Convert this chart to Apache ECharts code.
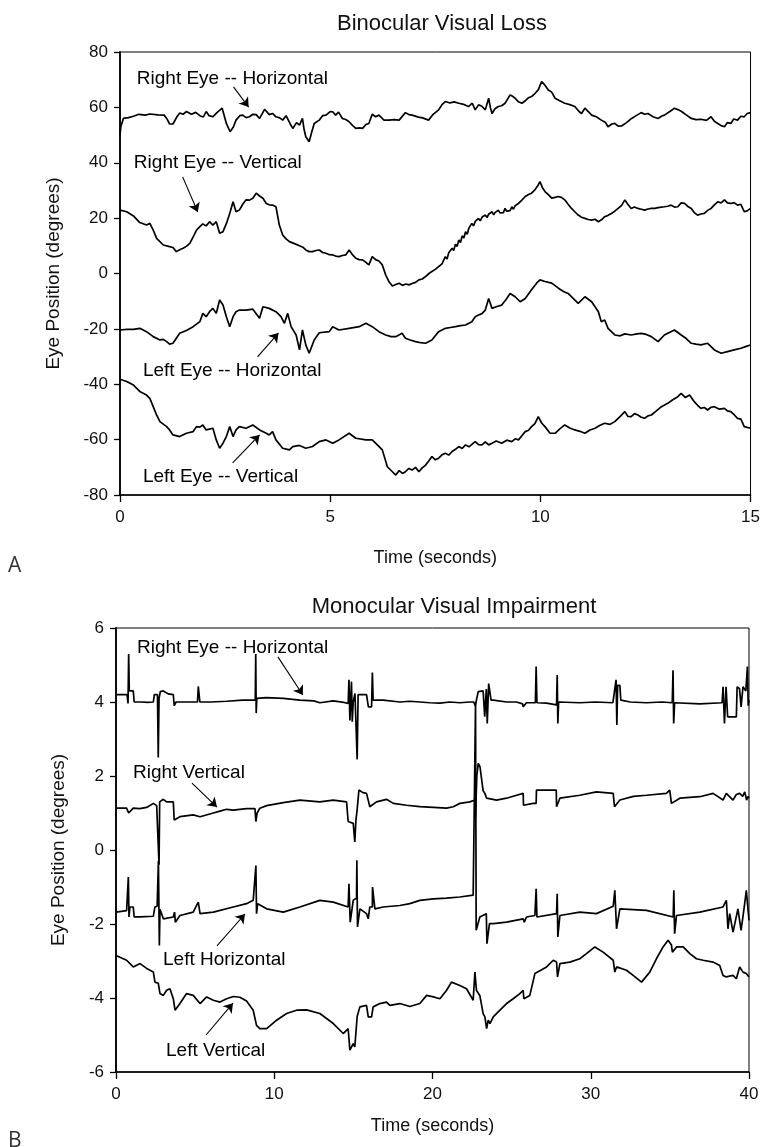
<!DOCTYPE html>
<html><head><meta charset="utf-8">
<script src="https://cdn.jsdelivr.net/npm/echarts@6/dist/echarts.min.js"></script>
<style>html,body{margin:0;padding:0;background:#fff}#c{width:763px;height:1147px}</style>
</head><body><div id="c"></div>
<script>
// ---------- Panel A: Binocular Visual Loss (time s, degrees) ----------
const A_rightHorizontal = [[0,50],[0.02,53],[0.08,56],[0.2,56.3],[0.32,56.8],[0.45,57.5],[0.6,57.2],[0.71,57.6],[0.9,57.3],[1.05,57.2],[1.11,56],[1.18,54],[1.26,54],[1.35,56.5],[1.42,58],[1.5,57.5],[1.58,58.5],[1.7,57.5],[1.8,58.2],[1.9,57],[1.98,56.5],[2.05,58.5],[2.12,57],[2.21,56.6],[2.3,58],[2.43,59.7],[2.48,57],[2.53,54.2],[2.62,51.2],[2.7,53],[2.76,55.4],[2.85,57],[2.92,57.2],[3.0,56.3],[3.08,56.6],[3.16,57.5],[3.24,57.4],[3.32,56],[3.44,59.3],[3.55,57.4],[3.63,57.8],[3.71,56.6],[3.8,56.2],[3.87,55.4],[3.95,57],[3.99,56.6],[4.05,54],[4.11,52.4],[4.2,54.5],[4.27,53.6],[4.34,56],[4.38,52],[4.42,49.4],[4.5,47.6],[4.56,51],[4.62,54.2],[4.74,55.4],[4.82,57],[4.9,57.2],[5.0,58.5],[5.06,58.4],[5.13,57.2],[5.2,58.3],[5.29,56],[5.37,55.6],[5.45,54.8],[5.53,53.5],[5.61,52.4],[5.7,52.6],[5.77,52.4],[5.85,53.8],[5.92,54.2],[6.0,57.5],[6.08,56.6],[6.16,57.2],[6.28,55.4],[6.4,55.4],[6.52,55.6],[6.64,55.4],[6.79,58.1],[6.87,57.4],[6.95,57.2],[7.1,56.5],[7.2,56.2],[7.34,55.4],[7.45,57.5],[7.58,59.1],[7.66,61],[7.74,62.1],[7.85,61.6],[7.95,62],[8.06,61.5],[8.15,61.2],[8.22,60.8],[8.29,60.3],[8.38,61.5],[8.45,59.1],[8.53,60.9],[8.6,60.5],[8.69,59.1],[8.77,63.3],[8.81,60],[8.85,57.8],[8.92,59.5],[9.0,60.3],[9.08,60.6],[9.16,61.5],[9.22,63],[9.28,64.5],[9.34,64],[9.4,63.3],[9.48,62],[9.56,61.5],[9.65,62.5],[9.72,63.5],[9.79,63.9],[9.87,65],[9.95,66.3],[10.03,69.3],[10.1,68.2],[10.19,66.3],[10.27,65.5],[10.35,63.3],[10.45,62.5],[10.58,61.5],[10.7,61],[10.82,60.3],[10.92,58.5],[10.98,57.8],[11.06,59.7],[11.14,58.5],[11.22,57.2],[11.33,56.6],[11.45,55.4],[11.55,54.5],[11.61,53],[11.7,54],[11.77,54.2],[11.85,53.2],[11.93,53.3],[12.05,54.5],[12.17,56],[12.3,57.2],[12.4,58.1],[12.48,57.5],[12.56,57.8],[12.68,56.6],[12.8,56],[12.88,56.8],[12.95,57.2],[13.08,58.5],[13.19,59.7],[13.27,59.2],[13.35,58.6],[13.47,57.3],[13.59,56],[13.7,55.6],[13.82,55.7],[13.95,55.3],[14.06,56.6],[14.14,55],[14.22,54.2],[14.3,53.4],[14.38,53],[14.45,54.5],[14.53,54.2],[14.6,55.8],[14.69,55.4],[14.77,56.8],[14.85,56.6],[14.92,57.8],[15.0,58.1]];
const A_rightVertical = [[0,22.9],[0.16,22.3],[0.32,20.8],[0.47,18.4],[0.63,17.5],[0.71,18.1],[0.79,15.7],[0.87,12.7],[1.03,10.3],[1.18,9.7],[1.26,9.4],[1.34,7.9],[1.42,8.6],[1.5,9.1],[1.58,9.8],[1.66,10.9],[1.75,13.5],[1.82,15.7],[1.9,16.9],[1.97,17.9],[2.05,17.2],[2.13,18.7],[2.21,17.5],[2.29,18.7],[2.37,14.5],[2.45,15.1],[2.53,18],[2.61,21.7],[2.69,25.9],[2.76,22.3],[2.84,22.9],[2.92,25],[3.0,26.6],[3.08,26.5],[3.16,27.2],[3.24,29],[3.32,28],[3.4,27.2],[3.48,25.3],[3.55,24.8],[3.63,24.7],[3.71,24.1],[3.79,17.5],[3.87,13.9],[3.95,12.5],[4.03,11.5],[4.15,10.8],[4.27,10],[4.35,9.5],[4.42,8.5],[4.5,7.9],[4.58,7.9],[4.66,8.3],[4.74,8.5],[4.82,7.6],[4.9,7.3],[4.98,6.8],[5.06,6.7],[5.13,6.3],[5.21,6.1],[5.29,6.5],[5.37,6.7],[5.45,8.5],[5.53,6.8],[5.61,5.5],[5.69,5],[5.77,4.9],[5.85,4],[5.92,3.1],[6.0,6.1],[6.08,5],[6.16,4.5],[6.24,3.1],[6.32,-0.5],[6.4,-3],[6.48,-4.5],[6.56,-4],[6.64,-3.5],[6.72,-4.3],[6.8,-3.8],[6.87,-4.1],[6.95,-3.6],[7.03,-3.2],[7.11,-2.3],[7.19,-2],[7.27,-1.1],[7.35,0],[7.42,0.7],[7.5,1.5],[7.58,2.5],[7.66,3.5],[7.74,6.1],[7.78,5.2],[7.82,7.5],[7.86,7.0],[7.9,9.1],[7.94,8.3],[7.98,10.6],[8.02,9.8],[8.06,12.1],[8.1,11.2],[8.14,13.6],[8.18,12.8],[8.22,15.1],[8.26,14.2],[8.3,16.4],[8.34,15.8],[8.37,18.1],[8.41,17.2],[8.45,18.8],[8.49,18.2],[8.53,19.9],[8.57,19.0],[8.61,20.3],[8.65,19.8],[8.69,21.1],[8.73,20.2],[8.77,21.4],[8.81,20.8],[8.85,22.3],[8.89,21.2],[8.92,22],[8.96,21.5],[9.0,22.9],[9.04,21.9],[9.08,22.6],[9.12,22.0],[9.16,23.5],[9.2,22.5],[9.24,23.2],[9.28,22.7],[9.32,24.1],[9.36,23.2],[9.4,24.5],[9.44,23.8],[9.48,25.3],[9.56,26.5],[9.64,27.8],[9.72,28.5],[9.79,29],[9.87,30.2],[9.95,32],[9.99,33.2],[10.05,31],[10.11,29.6],[10.19,28.5],[10.27,27.2],[10.35,27.5],[10.43,27.8],[10.5,27.5],[10.58,26.6],[10.66,25],[10.74,23.5],[10.82,22.3],[10.9,21.1],[10.98,20.3],[11.06,19.9],[11.14,19.5],[11.22,19.3],[11.3,19.6],[11.38,18.7],[11.46,19.5],[11.53,20.5],[11.61,21],[11.69,21.7],[11.77,22.5],[11.85,23.5],[11.93,24.5],[12.01,26.6],[12.08,25],[12.16,23.5],[12.24,24],[12.32,23.5],[12.4,23.2],[12.48,22.9],[12.56,23.3],[12.64,23.5],[12.72,23.5],[12.8,23.8],[12.88,24],[12.95,24.1],[13.03,24.3],[13.11,24.7],[13.19,24],[13.27,24.1],[13.35,25.5],[13.43,25.3],[13.51,24.2],[13.59,23.5],[13.66,22],[13.74,21.1],[13.82,21.5],[13.9,21.7],[13.98,22.8],[14.06,23.5],[14.14,24.8],[14.22,25.9],[14.3,25.5],[14.38,26.6],[14.45,25.5],[14.53,25.3],[14.61,25.6],[14.69,24.7],[14.77,25],[14.85,22.3],[14.92,22.6],[15.0,23.5]];
const A_leftHorizontal = [[0,-20.4],[0.16,-20.2],[0.32,-20.2],[0.47,-19.8],[0.63,-21],[0.79,-22.8],[0.95,-24],[1.03,-23.8],[1.11,-24.6],[1.18,-25.5],[1.26,-25.2],[1.34,-23.4],[1.42,-21.6],[1.58,-20.6],[1.74,-19.2],[1.9,-17.4],[1.97,-14.4],[2.05,-15.6],[2.13,-13.8],[2.21,-12.6],[2.29,-14.4],[2.37,-9.6],[2.45,-11.4],[2.53,-15.6],[2.61,-19.2],[2.69,-15.6],[2.76,-13.8],[2.84,-13.2],[3.0,-13.2],[3.16,-12.9],[3.32,-16.2],[3.4,-12],[3.55,-12.6],[3.71,-13.8],[3.83,-15.6],[3.91,-18],[3.99,-14.4],[4.07,-19.2],[4.19,-22.2],[4.27,-27.6],[4.34,-20.4],[4.42,-25.8],[4.5,-28.8],[4.62,-24],[4.74,-21.4],[4.98,-21],[5.06,-19.2],[5.21,-20.4],[5.45,-19.8],[5.69,-19.2],[5.85,-18],[6.0,-19.2],[6.16,-21],[6.32,-22.2],[6.45,-22.8],[6.56,-22.8],[6.71,-21.6],[6.79,-23.4],[6.9,-24],[7.03,-24.6],[7.15,-25],[7.27,-25.2],[7.42,-24],[7.58,-21],[7.74,-19.8],[7.86,-19.5],[7.98,-19.2],[8.1,-18.8],[8.22,-18.6],[8.37,-17.4],[8.45,-15.6],[8.53,-15],[8.61,-14.5],[8.69,-13.2],[8.77,-9],[8.85,-12.6],[8.95,-12],[9.08,-11.4],[9.18,-9.5],[9.28,-7.2],[9.4,-8.4],[9.52,-10.2],[9.64,-9],[9.79,-5.9],[9.91,-3.5],[9.99,-2.3],[10.11,-2.9],[10.27,-3.5],[10.43,-5.3],[10.55,-6.5],[10.66,-7.2],[10.78,-9],[10.9,-10.8],[11.06,-8.4],[11.22,-10.2],[11.38,-13.8],[11.45,-17.4],[11.53,-16.8],[11.61,-19.8],[11.77,-22.2],[11.9,-22.5],[12.01,-21.8],[12.16,-22.2],[12.3,-21.8],[12.4,-21.6],[12.52,-22],[12.64,-22.8],[12.8,-24.6],[12.95,-22.2],[13.08,-21.2],[13.19,-20.4],[13.35,-22.2],[13.47,-23.5],[13.59,-25.2],[13.7,-25.5],[13.82,-25.8],[13.98,-25.2],[14.14,-27.6],[14.3,-28.8],[14.45,-28.2],[14.61,-27.6],[14.77,-27],[14.88,-26.4],[15.0,-25.8]];
const A_leftVertical = [[0,-38.2],[0.16,-39],[0.32,-40.3],[0.47,-42.6],[0.63,-43.9],[0.71,-45.1],[0.79,-48.1],[0.87,-51.1],[0.95,-53.5],[1.11,-55.3],[1.18,-56.5],[1.26,-58.3],[1.42,-58.9],[1.58,-57.7],[1.74,-57.1],[1.82,-55.3],[1.9,-55.5],[1.97,-54.7],[2.05,-56.5],[2.21,-55.9],[2.29,-60.1],[2.37,-63.1],[2.45,-61.3],[2.53,-58.9],[2.61,-55.3],[2.69,-58.9],[2.76,-56.5],[2.84,-55.3],[3.0,-55.9],[3.16,-54.7],[3.32,-56.5],[3.48,-57.7],[3.55,-58.3],[3.63,-57.1],[3.71,-60.1],[3.87,-63.1],[4.03,-63.7],[4.11,-62.5],[4.27,-62.1],[4.42,-63.1],[4.58,-62.5],[4.74,-60.7],[4.9,-60.1],[5.06,-61.3],[5.21,-60.1],[5.45,-57.7],[5.61,-59.5],[5.85,-60.1],[6.0,-60.1],[6.08,-61.3],[6.24,-63.7],[6.36,-69.8],[6.48,-71.6],[6.56,-72.8],[6.64,-71.2],[6.72,-72.2],[6.79,-71.6],[6.87,-70.4],[6.95,-71],[7.03,-70],[7.11,-71.6],[7.19,-70.2],[7.27,-69.2],[7.35,-67.6],[7.42,-66.1],[7.5,-67.3],[7.58,-66.7],[7.66,-65.5],[7.74,-64.9],[7.82,-65.6],[7.9,-64.3],[7.98,-63.5],[8.06,-62.5],[8.14,-63.2],[8.22,-61.9],[8.3,-62.6],[8.45,-60.7],[8.53,-61.8],[8.61,-61.9],[8.69,-60.8],[8.77,-61.9],[8.85,-61.3],[8.95,-60.5],[9.08,-61.3],[9.2,-60.2],[9.32,-60.7],[9.4,-59.7],[9.48,-60.1],[9.56,-58.6],[9.64,-57.1],[9.72,-56.6],[9.79,-55.3],[9.87,-54.2],[9.95,-51.7],[10.03,-54],[10.11,-55.3],[10.23,-57.7],[10.35,-57.7],[10.47,-56],[10.58,-54.7],[10.7,-55.8],[10.82,-56.5],[10.94,-57],[11.06,-57.7],[11.18,-56.5],[11.3,-55.9],[11.42,-54.8],[11.53,-54.1],[11.65,-54.5],[11.77,-53.5],[11.9,-51.6],[12.01,-49.9],[12.08,-51.6],[12.16,-51.7],[12.24,-50.6],[12.32,-51.1],[12.4,-51.9],[12.48,-52.3],[12.56,-51.4],[12.64,-51.1],[12.76,-49.6],[12.88,-48.1],[13.03,-46.9],[13.15,-45.6],[13.27,-44.5],[13.35,-43.3],[13.45,-44.8],[13.55,-43.9],[13.66,-46.3],[13.74,-47.6],[13.82,-48.7],[13.9,-48.4],[13.98,-49.3],[14.06,-48.3],[14.14,-48.1],[14.26,-49],[14.38,-48.7],[14.45,-49.6],[14.53,-49.9],[14.61,-51],[14.69,-52.3],[14.77,-52.6],[14.85,-55.3],[14.92,-55.6],[15.0,-55.9]];

// ---------- Panel B: Monocular Visual Impairment ----------
const B_rightHorizontal = [[0,4.2],[0.7,4.2],[0.76,3.96],[0.8,5.3],[0.84,4.3],[1.09,4.3],[1.15,4.0],[1.6,4.0],[2.0,3.99],[2.36,4.0],[2.42,4.2],[2.62,4.2],[2.67,2.5],[2.72,4.1],[2.8,4.28],[2.99,4.3],[3.3,4.22],[3.62,4.2],[3.68,3.9],[3.75,3.9],[3.8,4.0],[4.4,4.0],[5.15,4.0],[5.2,4.42],[5.26,4.38],[5.3,4.0],[6.0,4.0],[7.0,4.02],[8.0,4.05],[8.8,4.05],[8.83,5.3],[8.86,3.7],[8.9,4.1],[9.5,4.12],[10.57,4.1],[11.62,4.05],[12.5,4.03],[12.88,3.98],[13.73,4.03],[14.4,3.99],[14.67,3.96],[14.72,4.6],[14.78,3.5],[14.88,4.55],[14.93,3.47],[14.99,4.0],[15.1,4.23],[15.2,4.2],[15.24,2.45],[15.3,4.2],[15.83,4.2],[15.95,3.87],[16.15,3.87],[16.2,4.8],[16.25,4.05],[16.88,4.05],[17.94,4.0],[18.57,4.02],[19.2,4.0],[19.83,3.98],[20.47,3.97],[21.1,4.0],[21.73,3.98],[22.36,4.0],[22.6,4.0],[22.7,3.9],[22.8,3.95],[22.89,4.28],[23.0,4.25],[23.2,4.3],[23.3,3.6],[23.4,4.35],[23.46,3.42],[23.55,4.5],[23.63,4.45],[23.7,4.05],[23.84,4.05],[24.68,4.0],[25.3,4.0],[25.7,3.95],[25.73,3.87],[25.94,3.98],[26.5,3.98],[26.55,4.96],[26.6,3.98],[27.2,3.97],[27.84,3.92],[27.88,4.73],[27.92,3.42],[27.97,4.0],[28.05,4.05],[29.31,3.98],[30.3,4.0],[31.4,3.98],[31.6,4.6],[31.65,3.38],[31.7,4.45],[31.84,4.45],[31.9,4.05],[32.5,4.0],[33.52,3.98],[34.5,4.0],[35.15,3.98],[35.2,4.86],[35.24,3.42],[35.3,3.98],[36.89,3.95],[38.3,3.98],[38.36,4.41],[38.45,3.42],[38.55,4.41],[38.65,3.6],[39.2,3.6],[39.25,4.41],[39.4,4.36],[39.5,3.87],[39.62,4.41],[39.8,4.3],[39.9,4.96],[39.95,3.9],[40.0,4.05]];
const B_rightVertical = [[0,1.13],[0.67,1.13],[0.8,1.0],[0.88,1.05],[1.09,1.13],[1.5,1.12],[1.94,1.15],[2.36,1.26],[2.57,1.2],[2.67,1.22],[2.72,-0.4],[2.76,1.3],[2.99,1.37],[3.2,1.3],[3.62,1.3],[3.68,0.81],[4.04,0.9],[4.88,0.95],[5.31,0.9],[6.15,1.0],[6.57,1.05],[6.99,1.1],[7.41,1.08],[8.25,1.12],[8.78,1.12],[8.84,0.77],[8.92,1.0],[9.09,1.13],[9.52,1.2],[10.57,1.28],[11.62,1.35],[12.88,1.3],[13.73,1.35],[14.57,1.3],[14.67,0.77],[14.99,0.72],[15.09,0.22],[15.16,0.8],[15.24,1.1],[15.35,1.62],[15.6,1.55],[15.83,1.53],[16.04,1.17],[16.46,1.3],[17.09,1.37],[17.52,1.26],[18.36,1.21],[19.2,1.17],[20.05,1.15],[20.89,1.13],[21.31,1.17],[21.73,1.26],[22.36,1.3],[22.68,1.35],[22.72,0.9],[22.8,2.0],[22.89,2.34],[23.0,2.25],[23.1,2.2],[23.2,1.6],[23.31,1.53],[23.42,1.4],[24.05,1.35],[24.68,1.4],[25.31,1.48],[25.73,1.53],[25.75,1.21],[26.36,1.26],[26.55,1.26],[26.57,1.62],[27.82,1.62],[27.84,1.17],[28.05,1.4],[29.31,1.48],[30.36,1.57],[31.42,1.53],[31.5,1.17],[31.84,1.35],[32.7,1.45],[33.52,1.48],[34.78,1.53],[34.99,1.62],[35.1,1.26],[35.63,1.4],[36.89,1.44],[37.73,1.53],[38.36,1.35],[38.57,1.53],[38.99,1.35],[39.2,1.5],[39.41,1.53],[39.6,1.45],[39.73,1.57],[39.85,1.35],[39.95,1.45],[40.0,1.4]];
const B_leftHorizontal = [[0,-1.68],[0.67,-1.64],[0.76,-1.64],[0.78,-0.73],[0.82,-1.81],[0.88,-1.54],[1.09,-1.54],[1.15,-1.81],[1.52,-1.81],[2.36,-1.79],[2.46,-1.54],[2.6,-1.52],[2.68,-0.3],[2.74,-2.58],[2.78,-1.6],[2.99,-1.86],[3.62,-1.81],[3.7,-1.68],[3.75,-1.95],[4.04,-1.77],[4.88,-1.68],[5.2,-1.41],[5.26,-1.41],[5.31,-1.72],[6.15,-1.68],[7.41,-1.54],[8.25,-1.45],[8.67,-1.36],[8.84,-0.42],[8.88,-1.72],[8.95,-1.45],[9.52,-1.59],[10.57,-1.68],[11.62,-1.54],[12.88,-1.36],[13.73,-1.41],[14.67,-1.54],[14.72,-0.91],[14.8,-1.95],[14.99,-1.36],[15.2,-1.3],[15.22,-0.28],[15.26,-2.08],[15.41,-1.59],[15.83,-1.72],[15.94,-1.86],[16.04,-1.54],[16.2,-1.54],[16.21,-1.0],[16.36,-1.59],[16.88,-1.54],[17.94,-1.5],[18.57,-1.45],[19.2,-1.36],[20.05,-1.32],[20.89,-1.3],[21.73,-1.27],[22.57,-1.22],[22.68,-1.22],[22.72,4.0],[22.76,-2.17],[22.99,-1.81],[23.4,-1.72],[23.44,-2.53],[23.6,-1.99],[23.84,-1.99],[24.68,-1.95],[25.73,-1.86],[25.8,-1.95],[25.94,-1.81],[26.47,-1.77],[26.55,-1.05],[26.6,-1.81],[27.84,-1.72],[27.88,-1.18],[27.92,-2.35],[28.05,-1.77],[29.31,-1.68],[30.36,-1.72],[31.42,-1.52],[31.52,-1.09],[31.63,-2.13],[31.84,-1.59],[33.52,-1.63],[35.21,-1.81],[35.25,-1.09],[35.3,-2.26],[35.42,-1.77],[36.89,-1.68],[38.36,-1.54],[38.57,-1.36],[38.67,-2.13],[38.78,-1.72],[38.99,-2.22],[39.3,-1.59],[39.5,-2.17],[39.7,-1.54],[39.83,-1.09],[40.0,-1.9]];
const B_leftVertical = [[0,-2.85],[0.25,-2.9],[0.67,-2.98],[1.09,-3.16],[1.52,-3.07],[1.94,-3.2],[2.36,-3.3],[2.46,-3.57],[2.67,-3.6],[2.78,-3.88],[2.99,-3.93],[3.2,-3.79],[3.41,-3.75],[3.62,-4.02],[3.73,-4.33],[4.04,-4.15],[4.46,-3.88],[4.88,-3.93],[5.31,-4.15],[5.73,-3.97],[6.15,-4.06],[6.57,-4.11],[6.99,-4.02],[7.41,-3.96],[7.83,-3.98],[8.25,-4.08],[8.67,-4.33],[8.88,-4.74],[9.09,-4.83],[9.52,-4.83],[10.15,-4.6],[10.78,-4.42],[11.41,-4.33],[12.04,-4.32],[12.88,-4.42],[13.73,-4.69],[14.36,-4.96],[14.67,-4.83],[14.78,-5.41],[14.99,-5.23],[15.09,-5.32],[15.24,-4.5],[15.41,-4.24],[15.83,-4.2],[15.94,-4.51],[16.15,-4.51],[16.25,-4.24],[16.67,-4.15],[17.09,-4.11],[17.31,-4.2],[17.94,-4.15],[18.57,-4.23],[19.2,-4.15],[19.63,-3.93],[20.05,-3.97],[20.47,-4.02],[20.89,-3.79],[21.2,-3.57],[21.73,-3.66],[22.15,-3.75],[22.57,-4.06],[22.68,-3.3],[22.78,-3.8],[22.99,-3.93],[23.2,-4.42],[23.31,-4.51],[23.42,-4.83],[23.52,-4.6],[23.63,-4.69],[23.84,-4.51],[24.26,-4.33],[24.68,-4.15],[25.1,-4.02],[25.52,-3.88],[25.73,-3.79],[25.77,-4.02],[26.15,-3.93],[26.47,-3.34],[26.57,-3.3],[27.21,-3.16],[27.63,-2.98],[27.84,-3.03],[27.9,-3.43],[28.05,-3.07],[28.68,-3.03],[29.31,-2.94],[29.73,-2.8],[30.26,-2.62],[30.78,-2.76],[31.42,-2.98],[31.52,-3.3],[31.63,-3.16],[32.26,-3.25],[32.68,-3.39],[33.21,-3.57],[33.73,-3.3],[34.15,-2.94],[34.57,-2.62],[34.89,-2.44],[35.1,-2.57],[35.16,-2.76],[35.42,-2.62],[35.84,-2.62],[36.26,-2.8],[36.68,-2.94],[37.1,-2.98],[37.73,-3.03],[38.15,-3.12],[38.36,-3.39],[38.57,-3.43],[38.99,-3.39],[39.2,-3.48],[39.41,-3.16],[39.62,-3.3],[39.83,-3.34],[40.0,-3.43]];

// ---------- Annotations ----------
const A_labelTexts = ['Right Eye -- Horizontal', 'Right Eye -- Vertical', 'Left Eye -- Horizontal', 'Left Eye -- Vertical'];
const A_labelAt = [[0.40, 70.3], [0.33, 39.9], [0.545, -35.2], [0.545, -73.5]];
const A_arrows = [[[2.70, 67.4], [3.06, 60.1]], [[1.49, 34.9], [1.85, 22.2]], [[3.27, -30.1], [3.77, -21.5]], [[2.68, -68.4], [3.32, -58.3]]];
const B_labelTexts = ['Right Eye -- Horizontal', 'Right Vertical', 'Left Horizontal', 'Left Vertical'];
const B_labelAt = [[1.33, 5.46], [1.07, 2.08], [2.97, -2.97], [3.16, -5.43]];
const B_arrows = [[[10.23, 5.22], [11.81, 4.19]], [[4.8, 1.81], [6.38, 1.16]], [[6.38, -2.59], [8.15, -1.73]], [[5.69, -5.0], [7.39, -4.14]]];

const A_xTicks = {min: 0, max: 15, interval: 5};
const A_yTicks = {min: -80, max: 80, interval: 20};
const B_xTicks = {min: 0, max: 40, interval: 10};
const B_yTicks = {min: -6, max: 6, interval: 2};

const FONT = '"Liberation Sans", Arial, Helvetica, sans-serif';
const INK = '#111';

function trace(data, i) {
  return {type: 'line', data: data, xAxisIndex: i, yAxisIndex: i, symbol: 'none', showSymbol: false,
    lineStyle: {color: '#000', width: 1.7}, silent: true, animation: false, z: 3};
}
function notes(texts, at, arrows, i) {
  return {type: 'scatter', xAxisIndex: i, yAxisIndex: i, symbolSize: 0, silent: true, animation: false, z: 5,
    itemStyle: {opacity: 1},
    data: at.map((p, k) => ({value: p, label: {formatter: texts[k]}})),
    label: {show: true, position: [0, 0], align: 'left', verticalAlign: 'middle', fontFamily: FONT, fontSize: 19, color: '#000', opacity: 1},
    markLine: {silent: true, animation: false, symbol: ['none', 'arrow'], symbolSize: 9,
      lineStyle: {color: '#000', width: 1.1, type: 'solid', opacity: 1}, label: {show: false},
      data: arrows.map(a => [{coord: a[0]}, {coord: a[1]}])}};
}
function xAx(t, i, gap) {
  return Object.assign({type: 'value', gridIndex: i, name: 'Time (seconds)', nameLocation: 'middle', nameGap: gap,
    nameTextStyle: {fontFamily: FONT, fontSize: 18, color: INK},
    axisLine: {show: true, onZero: false, lineStyle: {color: '#000', width: 1.5}},
    axisTick: {show: true, inside: false, length: 7, lineStyle: {color: '#000', width: 1.3}},
    axisLabel: {fontFamily: FONT, fontSize: 17, color: INK, margin: 14},
    splitLine: {show: false}}, t);
}
function yAx(t, i, gap) {
  return Object.assign({type: 'value', gridIndex: i, name: 'Eye Position (degrees)', nameLocation: 'middle', nameGap: gap,
    nameTextStyle: {fontFamily: FONT, fontSize: 19, color: INK},
    axisLine: {show: true, onZero: false, lineStyle: {color: '#000', width: 1.8}},
    axisTick: {show: true, inside: false, length: 6, lineStyle: {color: '#000', width: 1.3}},
    axisLabel: {fontFamily: FONT, fontSize: 17, color: INK, margin: 12},
    splitLine: {show: false}}, t);
}

const chart = echarts.init(document.getElementById('c'), null, {renderer: 'canvas'});
chart.setOption({
  animation: false,
  backgroundColor: '#fff',
  title: [
    {text: 'Binocular Visual Loss', left: 437, top: 8, textAlign: 'center', textStyle: {fontFamily: FONT, fontSize: 22, fontWeight: 'normal', color: INK}},
    {text: 'Monocular Visual Impairment', left: 449, top: 591, textAlign: 'center', textStyle: {fontFamily: FONT, fontSize: 22, fontWeight: 'normal', color: INK}}
  ],
  grid: [
    {left: 120, top: 52, width: 633, height: 443, show: true, borderColor: '#000', borderWidth: 1, containLabel: false},
    {left: 116, top: 628, width: 633, height: 444, show: true, borderColor: '#000', borderWidth: 1, containLabel: false}
  ],
  xAxis: [xAx(A_xTicks, 0, 54), xAx(B_xTicks, 1, 45)],
  yAxis: [yAx(A_yTicks, 0, 57), yAx(B_yTicks, 1, 48)],
  graphic: [
    {type: 'text', x: 8, y: 556, style: {text: 'A', font: '21px "Open Sans", "DejaVu Sans", sans-serif', fill: '#333'}},
    {type: 'text', x: 8, y: 1131, style: {text: 'B', font: '21px "Open Sans", "DejaVu Sans", sans-serif', fill: '#333'}}
  ],
  series: [
    trace(A_rightHorizontal, 0), trace(A_rightVertical, 0), trace(A_leftHorizontal, 0), trace(A_leftVertical, 0),
    notes(A_labelTexts, A_labelAt, A_arrows, 0),
    trace(B_rightHorizontal, 1), trace(B_rightVertical, 1), trace(B_leftHorizontal, 1), trace(B_leftVertical, 1),
    notes(B_labelTexts, B_labelAt, B_arrows, 1)
  ]
});
</script></body></html>
